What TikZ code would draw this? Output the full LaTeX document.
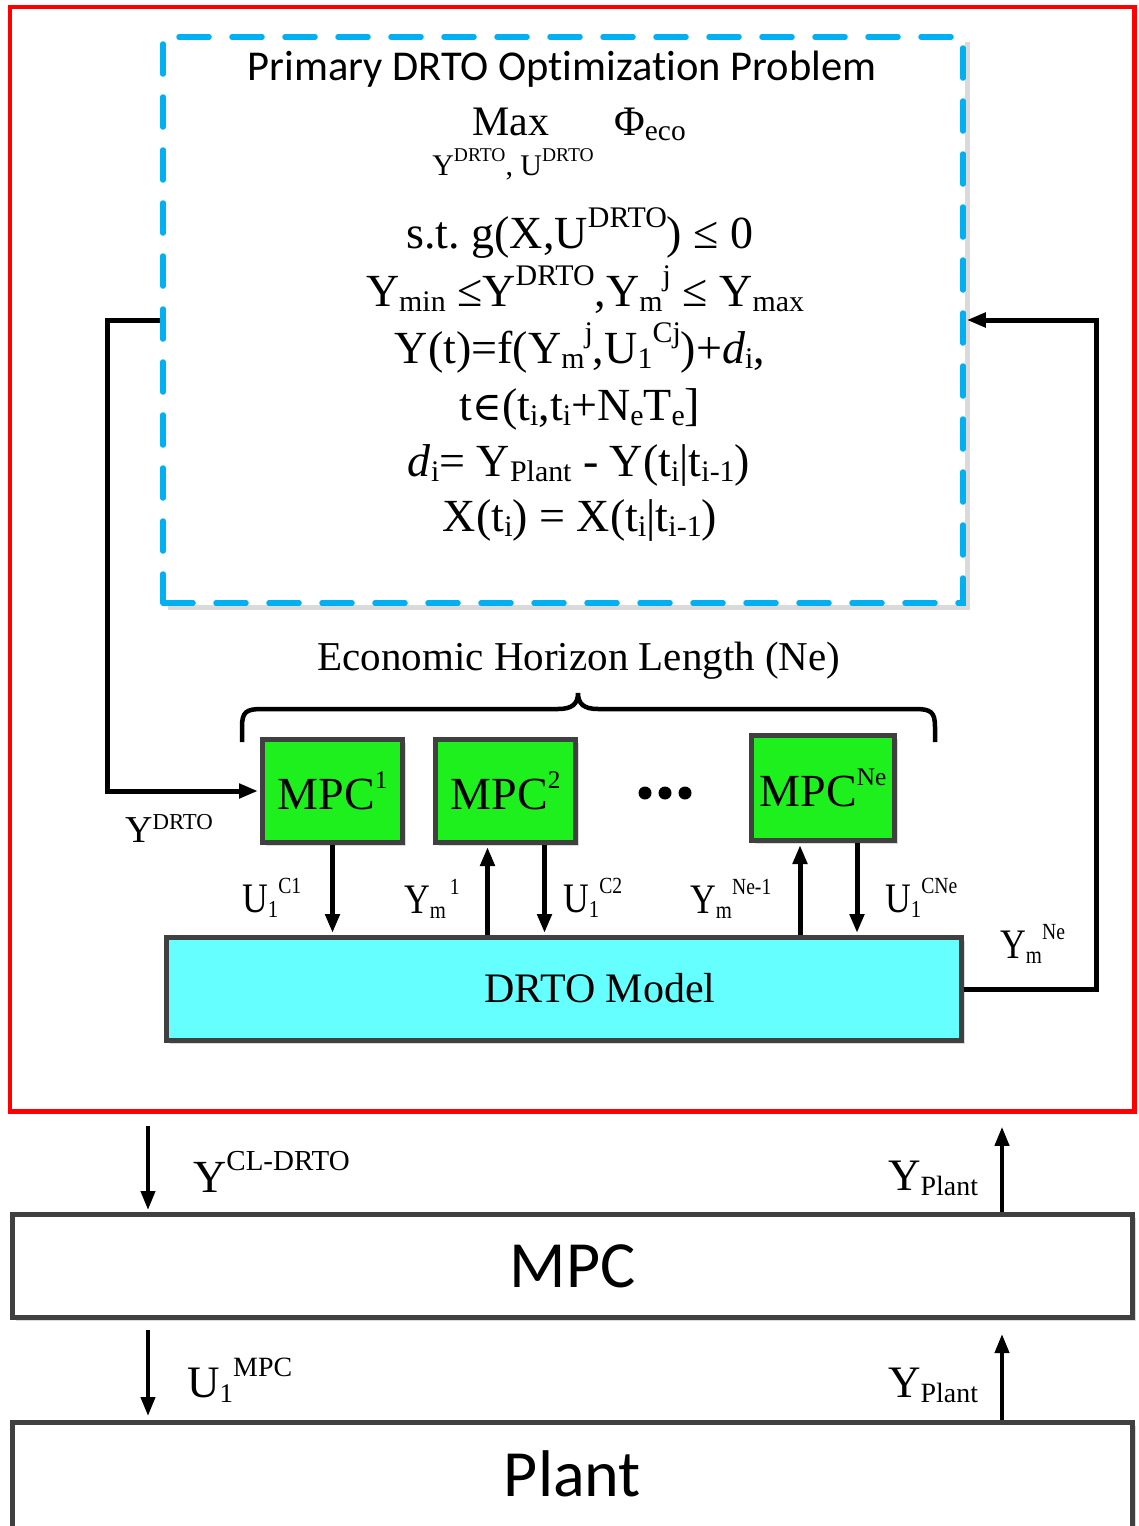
\documentclass[tikz,border=0pt]{standalone}
\usepackage{fontspec}
\usepackage{graphicx}
\setmainfont{Liberation Serif}
\newfontfamily\calfont[Ligatures=NoCommon]{Carlito}
\newfontfamily\djv{DejaVu Serif}
\newfontfamily\condfont[FakeStretch=0.85]{Liberation Serif}
\usetikzlibrary{arrows.meta,shadows}
\definecolor{redb}{HTML}{FF0000}
\definecolor{blued}{HTML}{00B0F0}
\definecolor{greenf}{HTML}{1EF01E}
\definecolor{cyanf}{HTML}{66FFFF}
\definecolor{boxd}{HTML}{404040}
\definecolor{shad}{HTML}{DADADA}
\newcommand\supx[2][.65]{\raisebox{.45em}{\scalebox{#1}{#2}}}
\newcommand\subx[2][.65]{\raisebox{-.12em}{\scalebox{#1}{#2}}}
\newcommand\rsup[3]{\raisebox{#1}{\scalebox{#2}{#3}}}
\newcommand\fs[1]{\fontsize{#1}{#1}\selectfont}
\frenchspacing
\begin{document}
\begin{tikzpicture}[x=1pt,y=-1pt,
  conn/.style={line width=5pt,black},
  arr/.style={conn,-{Triangle[length=19pt,width=14pt]}},
  box/.style={draw=boxd,line width=5pt,inner sep=0pt,
    drop shadow={shadow xshift=3pt,shadow yshift=-3pt,fill=shad,opacity=1}},
  lab/.style={anchor=base west,inner sep=0pt},
  eq/.style={anchor=base,inner sep=0pt,font=\fs{46}},
]
\useasboundingbox (0,0) rectangle (1139,1526);
\clip (0,0) rectangle (1139,1526);

% outer red frame
\node[draw=redb,line width=4.5pt,minimum width=1124.5pt,minimum height=1104.5pt,inner sep=0pt] (dr) at (572.3,559.3) {};

% dashed optimisation box
\draw[shad,line width=5pt] (967,42) -- (967,607) -- (168,607);
\node[draw=blued,line width=5.5pt,line cap=round,dash pattern=on 30pt off 23pt,
  minimum width=800pt,minimum height=566pt,inner sep=0pt] (opt) at (563,320) {};

\node[anchor=base,inner sep=0pt,font=\calfont\fs{42.5}] (title) at (562,80) {Primary DRTO Opt\kern0pt imizat\kern0pt ion Problem};
\node[anchor=base,inner sep=0pt,font=\fs{42}] (max) at (511,135) {Max};
\node[anchor=base west,inner sep=0pt,font=\fs{42}] (phi) at (614,135) {Φ\subx[.7]{eco}};
\node[anchor=base,inner sep=0pt,font=\fs{30}] (vars) at (513,175) {Y\supx{DRTO}, U\supx{DRTO}};

\node[eq] (e1) at (580,248) {s.t. g(X,U\supx{DRTO}) ≤ 0};
\node[eq] (e2) at (585,306) {Y\subx{min} ≤Y\supx{DRTO},Y\subx{m}\supx{j} ≤ Y\subx{max}};
\node[eq] (e3) at (580,363) {Y(t)=f(Y\subx{m}\supx{j},U\subx{1}\supx{Cj})+\textit{d}\subx{i},};
\node[eq] (e4) at (580,420) {t{\djv\fs{40}∈}(t\subx{i},t\subx{i}+N\subx{e}T\subx{e}]};
\node[eq] (e5) at (579,476) {\textit{d}\subx{i}= Y\subx{Plant} - Y(t\subx{i}|t\subx{i-1})};
\node[eq] (e6) at (580,531) {X(t\subx{i}) = X(t\subx{i}|t\subx{i-1})};

% horizon brace
\node[anchor=base,inner sep=0pt,font=\fs{41}] (ehl) at (579,670) {Economic Horizon Length (Ne)};
\draw[line width=4.5pt] (242,742) -- (242,727) .. controls (242,712) and (246,709) .. (262,709)
  -- (558,709) .. controls (572,709) and (578,704) .. (578,693)
  .. controls (578,704) and (584,709) .. (598,709) -- (915,709)
  .. controls (931,709) and (935,712) .. (935,727) -- (935,742);

% MPC boxes
\node[box,fill=greenf,minimum width=140pt,minimum height=103pt] (m1) at (332.5,791) {\fs{46}MPC\supx[.55]{1}};
\node[box,fill=greenf,minimum width=140pt,minimum height=103pt] (m2) at (505.5,791) {\fs{46}MPC\supx[.55]{2}};
\node[box,fill=greenf,minimum width=143pt,minimum height=105pt] (mn) at (823,788) {\fs{46}MPC\supx[.55]{Ne}};
\fill (645,793) circle[radius=6.5pt] (665,793) circle[radius=6.5pt] (685,793) circle[radius=6.5pt];

% DRTO model
\node[box,fill=cyanf,minimum width=795pt,minimum height=103pt] (model) at (564,989) {};
\node[anchor=base,inner sep=0pt,font=\fs{42}] (mtxt) at (600,1002) {DRTO Model};

% lower boxes
\node[box,fill=white,minimum width=1120pt,minimum height=103pt,font=\calfont\fs{66}] (mpc) at (572.5,1266) {MPC};
\node[box,fill=white,minimum width=1120pt,minimum height=112pt] (plant) at (572.5,1478.5) {};
\node[inner sep=0pt,font=\calfont\fs{66}] (ptxt) at (572.5,1474) {Plant};

% feedback connectors
\draw[arr,shorten >=2pt] (opt.west) -- ++(-53,0) |- (m1.west);
\draw[arr,shorten >=1pt] (model.east) -- ++(132,0) |- (opt.east);

\coordinate (c2u) at ([xshift=-18pt]m2.south);
\coordinate (c2d) at ([xshift=39pt]m2.south);
\coordinate (cnu) at ([xshift=-23pt]mn.south);
\coordinate (cnd) at ([xshift=34pt]mn.south);
\draw[arr,shorten >=2pt] (m1.south) -- (m1.south |- model.north);
\draw[arr,shorten >=2pt] (c2u |- model.north) -- (c2u);
\draw[arr,shorten >=2pt] (c2d) -- (c2d |- model.north);
\draw[arr,shorten >=2pt] (cnu |- model.north) -- (cnu);
\draw[arr,shorten >=2pt] (cnd) -- (cnd |- model.north);

\coordinate (la) at (148,0);
\coordinate (ra) at (1002,0);
\draw[arr,line width=4pt,shorten <=12pt,shorten >=2pt] (la |- dr.south) -- (la |- mpc.north);
\draw[arr,line width=4pt,shorten >=13pt] (ra |- mpc.north) -- (ra |- dr.south);
\draw[arr,line width=4pt,shorten <=10pt,shorten >=4pt] (la |- mpc.south) -- (la |- plant.north);
\draw[arr,line width=4pt,shorten >=14pt] (ra |- plant.north) -- (ra |- mpc.south);

% labels
\node[lab,font=\fs{38}] (lydrto) at (125,842) {Y\rsup{.32em}{.6}{DRTO}};
\node[lab,font=\condfont\fs{42}] (lu1) at (242,912) {U\subx[.58]{1}\supx[.55]{C1}};
\node[lab,font=\condfont\fs{42}] (lym1) at (404,913) {Y\subx[.58]{m}\supx[.55]{\,1}};
\node[lab,font=\condfont\fs{42}] (lu2) at (563,912) {U\subx[.58]{1}\supx[.55]{C2}};
\node[lab,font=\condfont\fs{42}] (lymn1) at (690,913) {Y\subx[.58]{m}\supx[.55]{Ne-1}};
\node[lab,font=\condfont\fs{42}] (lun) at (885,912) {U\subx[.58]{1}\supx[.55]{CNe}};
\node[lab,font=\condfont\fs{42}] (lymn) at (1000,958) {Y\subx[.58]{m}\supx[.55]{Ne}};
\node[lab,font=\fs{46}] (lycl) at (193,1192) {Y\rsup{.47em}{.63}{CL-DRTO}};
\node[lab,font=\fs{45}] (lyp1) at (888,1190) {Y\subx[.62]{Plant}};
\node[lab,font=\fs{45}] (lu1m) at (187,1397) {U\subx[.6]{1}\supx[.62]{MPC}};
\node[lab,font=\fs{45}] (lyp2) at (888,1397) {Y\subx[.62]{Plant}};
\end{tikzpicture}
\end{document}
